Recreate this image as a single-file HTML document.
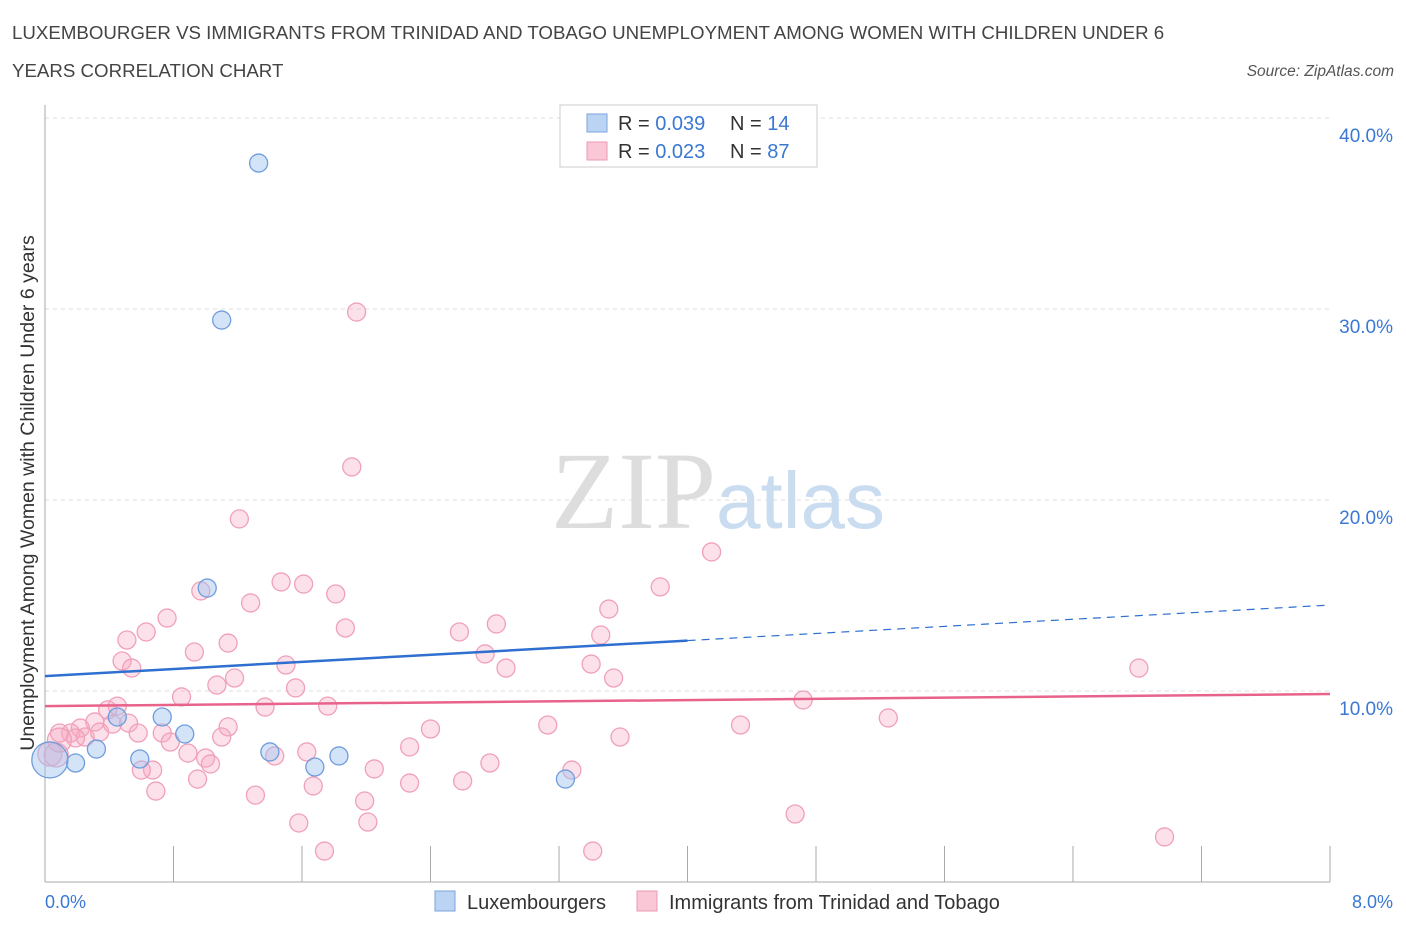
<!DOCTYPE html>
<html><head><meta charset="utf-8"><style>
body{margin:0;background:#fff;font-family:"Liberation Sans",sans-serif;}
</style></head><body>
<svg width="1406" height="930" xmlns="http://www.w3.org/2000/svg">
<text x="12" y="39" font-size="18.7" fill="#444">LUXEMBOURGER VS IMMIGRANTS FROM TRINIDAD AND TOBAGO UNEMPLOYMENT AMONG WOMEN WITH CHILDREN UNDER 6</text>
<text x="12" y="77" font-size="18.7" fill="#444">YEARS CORRELATION CHART</text>
<text x="1394" y="76" font-size="15.5" fill="#555" font-style="italic" text-anchor="end">Source: ZipAtlas.com</text>
<g id="grid"></g>
<text x="716" y="528" font-size="110" font-family="Liberation Serif" fill="#ddd" text-anchor="end">ZIP</text>
<text x="716" y="528" font-size="80" fill="#c9dcf0">atlas</text>
<line x1="45" y1="105" x2="45" y2="882" stroke="#aaa"/>
<line x1="45" y1="882" x2="1330" y2="882" stroke="#aaa"/>
<g id="ticks"></g>
<g id="pts"></g>
<g id="lines"></g>
<text transform="translate(34,493) rotate(-90)" font-size="19.5" fill="#333" text-anchor="middle">Unemployment Among Women with Children Under 6 years</text>
<text x="45" y="908" font-size="18" fill="#3a78d4">0.0%</text>
<text x="1393" y="908" font-size="18" fill="#3a78d4" text-anchor="end">8.0%</text>
<g>
<rect x="560" y="105" width="257" height="62" fill="#fff" stroke="#ccc"/>
<rect x="587" y="114" width="20" height="18" fill="#bcd4f4" stroke="#7aa3de"/>
<rect x="587" y="142" width="20" height="18" fill="#f9c7d5" stroke="#ec9ab2"/>
<text x="618" y="130" font-size="20" fill="#333">R = <tspan fill="#3a78d4">0.039</tspan><tspan x="730">N = </tspan><tspan fill="#3a78d4">14</tspan></text>
<text x="618" y="158" font-size="20" fill="#333">R = <tspan fill="#3a78d4">0.023</tspan><tspan x="730">N = </tspan><tspan fill="#3a78d4">87</tspan></text>
</g>
<g>
<rect x="435" y="891" width="20" height="20" fill="#bcd4f4" stroke="#7aa3de"/>
<text x="467" y="909" font-size="20" fill="#333">Luxembourgers</text>
<rect x="637" y="891" width="20" height="20" fill="#f9c7d5" stroke="#ec9ab2"/>
<text x="669" y="909" font-size="20" fill="#333">Immigrants from Trinidad and Tobago</text>
</g>
</svg>
<script>
const yTicks=[10,20,30,40];
const xTicks=[0,0.8,1.6,2.4,3.2,4.0,4.8,5.6,6.4,7.2,8.0];
const luxX=[1.33,1.10,1.01,0.45,0.73,0.87,0.32,0.19,0.59,1.40,1.68,1.83,3.24,0.03];
const luxY=[37.64,29.42,15.39,8.64,8.64,7.75,6.96,6.23,6.44,6.81,6.02,6.60,5.39,6.39];
const luxR=[9,9,9,9,9,9,9,9,9,9,9,9,9,18];
const triX=[1.94,1.91,1.21,4.15,1.47,1.61,0.97,3.83,1.81,1.28,3.51,0.76,2.81,1.87,2.58,0.51,0.63,3.46,1.14,0.93,0.48,0.54,1.50,2.74,2.87,3.40,6.81,3.54,1.18,1.07,1.56,0.85,4.72,0.45,0.39,5.25,1.37,3.13,4.33,2.40,1.14,0.31,0.22,0.16,0.09,0.25,0.19,0.34,0.42,0.52,0.58,0.73,0.78,1.10,1.76,2.27,1.63,1.43,0.89,1.00,1.03,0.67,0.60,2.77,2.05,3.28,3.58,1.67,2.27,2.60,0.95,0.69,1.31,1.99,4.67,1.58,2.01,1.74,3.41,6.97,0.03,0.07,0.09];
const triY=[29.84,21.73,19.01,17.28,15.71,15.60,15.24,15.45,15.08,14.61,14.29,13.82,13.51,13.30,13.09,12.67,13.09,12.93,12.51,12.04,11.57,11.20,11.36,11.94,11.20,11.41,11.20,10.68,10.68,10.31,10.16,9.69,9.53,9.21,9.01,8.59,9.16,8.22,8.22,8.01,8.12,8.38,8.06,7.80,7.80,7.59,7.54,7.85,8.27,8.32,7.80,7.80,7.33,7.59,9.21,7.07,6.81,6.60,6.75,6.49,6.18,5.86,5.86,6.23,5.92,5.86,7.59,5.03,5.18,5.29,5.39,4.76,4.55,4.24,3.56,3.09,3.14,1.62,1.62,2.36,6.70,6.65,7.43];
const luxTrend=[10.78,14.5];
const triTrend=[9.21,9.84];
const luxSolidEnd=4.0;
const NS="http://www.w3.org/2000/svg";
const X=v=>45+v/8*1285, Y=v=>882-v*19.1;
function mk(t,a,p){const e=document.createElementNS(NS,t);for(const k in a)e.setAttribute(k,a[k]);document.getElementById(p).appendChild(e);return e;}
yTicks.forEach(v=>{
 const l=mk('line',{x1:45,x2:1330,y1:Y(v),y2:Y(v),stroke:'#ddd','stroke-dasharray':'4,4'},'grid');
 
 
 const t=mk('text',{x:1393,y:Y(v)+24,'font-size':19,fill:'#3a78d4','text-anchor':'end'},'grid');
 t.textContent=v.toFixed(1)+'%';
 
 
});
xTicks.forEach(v=>{
 const l=mk('line',{x1:X(v),x2:X(v),y1:846,y2:882,stroke:'#aaa'},'ticks');
 
 
});
triX.forEach((x,i)=>{
 const c=mk('circle',{cx:X(x),cy:Y(triY[i]),r:i>=triX.length-3?12:9,fill:'rgba(246,170,195,0.35)',stroke:'#f0a0b8','stroke-width':1.3},'pts');
 
 
});
luxX.forEach((x,i)=>{
 const c=mk('circle',{cx:X(x),cy:Y(luxY[i]),r:luxR[i],fill:'rgba(160,195,240,0.45)',stroke:'#6f9ddc','stroke-width':1.3},'pts');
 
 
});
const ly=x=>luxTrend[0]+(luxTrend[1]-luxTrend[0])*x/8;
let a=mk('line',{x1:X(0),y1:Y(ly(0)),x2:X(luxSolidEnd),y2:Y(ly(luxSolidEnd)),stroke:'#2f6fd0','stroke-width':2.5},'lines');


a=mk('line',{x1:X(luxSolidEnd),y1:Y(ly(luxSolidEnd)),x2:X(8),y2:Y(ly(8)),stroke:'#2f6fd0','stroke-width':1.2,'stroke-dasharray':'8,6'},'lines');


a=mk('line',{x1:X(0),y1:Y(triTrend[0]),x2:X(8),y2:Y(triTrend[1]),stroke:'#e8638c','stroke-width':2.5},'lines');


</script>
</body></html>
